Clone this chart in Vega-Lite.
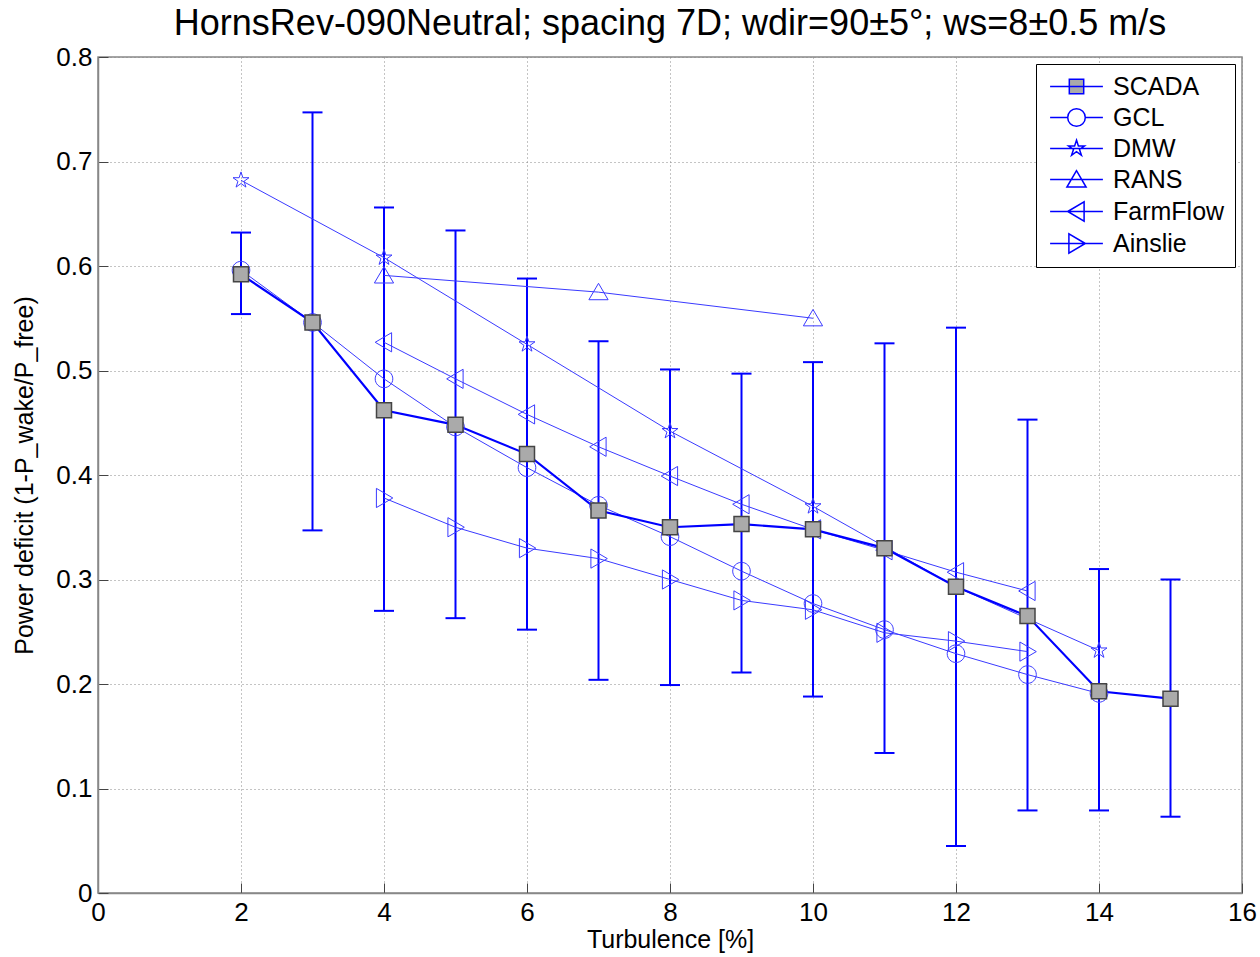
{
  "$schema": "https://vega.github.io/schema/vega-lite/v6.json",
  "width": 1144,
  "height": 836,
  "autosize": "none",
  "padding": {"left": 98, "top": 57, "right": 18, "bottom": 64},
  "background": "white",
  "config": {
    "font": "Liberation Sans",
    "view": {"stroke": "#888888", "strokeWidth": 1.5},
    "axis": {
      "labelFont": "Liberation Sans",
      "titleFont": "Liberation Sans",
      "labelFontSize": 26,
      "titleFontSize": 25,
      "labelColor": "black",
      "titleColor": "black",
      "titleFontWeight": "normal",
      "labelFlush": false,
      "domainColor": "#888888",
      "domainWidth": 1.5,
      "tickColor": "#444444",
      "tickSize": -10,
      "tickWidth": 1,
      "gridColor": "#888888",
      "gridDash": [1, 3],
      "gridWidth": 1
    }
  },
  "title": {
    "text": "HornsRev-090Neutral; spacing 7D; wdir=90±5°; ws=8±0.5 m/s",
    "font": "Liberation Sans",
    "fontSize": 36,
    "fontWeight": "normal",
    "color": "black",
    "anchor": "middle",
    "offset": 1
  },
  "data": {
    "values": [
      {"series": "SCADA", "x": 2, "y": 0.592, "lo": 0.554, "hi": 0.632},
      {"series": "SCADA", "x": 3, "y": 0.546, "lo": 0.347, "hi": 0.747},
      {"series": "SCADA", "x": 4, "y": 0.462, "lo": 0.270, "hi": 0.656},
      {"series": "SCADA", "x": 5, "y": 0.448, "lo": 0.263, "hi": 0.634},
      {"series": "SCADA", "x": 6, "y": 0.420, "lo": 0.252, "hi": 0.588},
      {"series": "SCADA", "x": 7, "y": 0.366, "lo": 0.204, "hi": 0.528},
      {"series": "SCADA", "x": 8, "y": 0.350, "lo": 0.199, "hi": 0.501},
      {"series": "SCADA", "x": 9, "y": 0.353, "lo": 0.211, "hi": 0.497},
      {"series": "SCADA", "x": 10, "y": 0.348, "lo": 0.188, "hi": 0.508},
      {"series": "SCADA", "x": 11, "y": 0.330, "lo": 0.134, "hi": 0.526},
      {"series": "SCADA", "x": 12, "y": 0.293, "lo": 0.045, "hi": 0.541},
      {"series": "SCADA", "x": 13, "y": 0.265, "lo": 0.079, "hi": 0.453},
      {"series": "SCADA", "x": 14, "y": 0.193, "lo": 0.079, "hi": 0.310},
      {"series": "SCADA", "x": 15, "y": 0.186, "lo": 0.073, "hi": 0.300},
      {"series": "GCL", "x": 2, "y": 0.596},
      {"series": "GCL", "x": 3, "y": 0.546},
      {"series": "GCL", "x": 4, "y": 0.492},
      {"series": "GCL", "x": 5, "y": 0.446},
      {"series": "GCL", "x": 6, "y": 0.407},
      {"series": "GCL", "x": 7, "y": 0.371},
      {"series": "GCL", "x": 8, "y": 0.341},
      {"series": "GCL", "x": 9, "y": 0.308},
      {"series": "GCL", "x": 10, "y": 0.277},
      {"series": "GCL", "x": 11, "y": 0.252},
      {"series": "GCL", "x": 12, "y": 0.229},
      {"series": "GCL", "x": 13, "y": 0.209},
      {"series": "GCL", "x": 14, "y": 0.191},
      {"series": "DMW", "x": 2, "y": 0.682},
      {"series": "DMW", "x": 4, "y": 0.608},
      {"series": "DMW", "x": 6, "y": 0.525},
      {"series": "DMW", "x": 8, "y": 0.442},
      {"series": "DMW", "x": 10, "y": 0.370},
      {"series": "DMW", "x": 12, "y": 0.293},
      {"series": "DMW", "x": 14, "y": 0.232},
      {"series": "RANS", "x": 4, "y": 0.591},
      {"series": "RANS", "x": 7, "y": 0.575},
      {"series": "RANS", "x": 10, "y": 0.550},
      {"series": "FarmFlow", "x": 4, "y": 0.527},
      {"series": "FarmFlow", "x": 5, "y": 0.492},
      {"series": "FarmFlow", "x": 6, "y": 0.458},
      {"series": "FarmFlow", "x": 7, "y": 0.427},
      {"series": "FarmFlow", "x": 8, "y": 0.399},
      {"series": "FarmFlow", "x": 9, "y": 0.372},
      {"series": "FarmFlow", "x": 10, "y": 0.348},
      {"series": "FarmFlow", "x": 11, "y": 0.328},
      {"series": "FarmFlow", "x": 12, "y": 0.307},
      {"series": "FarmFlow", "x": 13, "y": 0.289},
      {"series": "Ainslie", "x": 4, "y": 0.378},
      {"series": "Ainslie", "x": 5, "y": 0.350},
      {"series": "Ainslie", "x": 6, "y": 0.330},
      {"series": "Ainslie", "x": 7, "y": 0.320},
      {"series": "Ainslie", "x": 8, "y": 0.300},
      {"series": "Ainslie", "x": 9, "y": 0.280},
      {"series": "Ainslie", "x": 10, "y": 0.271},
      {"series": "Ainslie", "x": 11, "y": 0.249},
      {"series": "Ainslie", "x": 12, "y": 0.241},
      {"series": "Ainslie", "x": 13, "y": 0.231}
    ]
  },
  "encoding": {
    "x": {
      "field": "x", "type": "quantitative",
      "scale": {"domain": [0, 16], "nice": false, "zero": false},
      "axis": {"title": "Turbulence [%]", "values": [0, 2, 4, 6, 8, 10, 12, 14, 16], "labelPadding": 16, "titlePadding": 2}
    },
    "y": {
      "field": "y", "type": "quantitative",
      "scale": {"domain": [0, 0.8], "nice": false},
      "axis": {"title": "Power deficit (1-P_wake/P_free)", "values": [0, 0.1, 0.2, 0.3, 0.4, 0.5, 0.6, 0.7, 0.8], "format": ".1~f", "labelPadding": 16, "titlePadding": 18}
    }
  },
  "layer": [
    {
      "transform": [{"filter": "datum.series === 'SCADA'"}],
      "mark": {"type": "rule", "color": "#0000ff", "strokeWidth": 2},
      "encoding": {"y": {"field": "lo", "type": "quantitative"}, "y2": {"field": "hi"}}
    },
    {
      "transform": [{"filter": "datum.series === 'SCADA'"}],
      "mark": {"type": "tick", "orient": "horizontal", "color": "#0000ff", "size": 20, "thickness": 2, "opacity": 1},
      "encoding": {"y": {"field": "lo", "type": "quantitative"}}
    },
    {
      "transform": [{"filter": "datum.series === 'SCADA'"}],
      "mark": {"type": "tick", "orient": "horizontal", "color": "#0000ff", "size": 20, "thickness": 2, "opacity": 1},
      "encoding": {"y": {"field": "hi", "type": "quantitative"}}
    },
    {
      "transform": [{"filter": "datum.series !== 'SCADA'"}],
      "mark": {"type": "line", "color": "#3a3aff", "strokeWidth": 1},
      "encoding": {"detail": {"field": "series", "type": "nominal"}}
    },
    {
      "transform": [{"filter": "datum.series === 'SCADA'"}],
      "mark": {"type": "line", "color": "#0000ff", "strokeWidth": 2.2},
      "encoding": {}
    },
    {
      "transform": [{"filter": "datum.series !== 'SCADA'"}],
      "mark": {"type": "point", "filled": false, "stroke": "#3a3aff", "strokeWidth": 1, "size": 256, "opacity": 1},
      "encoding": {
        "shape": {
          "field": "series", "type": "nominal", "legend": null,
          "scale": {
            "domain": ["GCL", "DMW", "RANS", "FarmFlow", "Ainslie"],
            "range": [
              "M-1.1,0A1.1,1.1 0 1,0 1.1,0A1.1,1.1 0 1,0 -1.1,0Z",
              "M0,-1.05L0.234,-0.322L0.999,-0.324L0.379,0.123L0.617,0.849L0,0.399L-0.617,0.849L-0.379,0.123L-0.999,-0.324L-0.234,-0.322Z",
              "M0,-1.1L-1.2,0.95L1.2,0.95Z",
              "M-1.1,0L0.95,-1.2L0.95,1.2Z",
              "M1.1,0L-0.95,-1.2L-0.95,1.2Z"
            ]
          }
        }
      }
    },
    {
      "transform": [{"filter": "datum.series === 'SCADA'"}],
      "mark": {"type": "point", "shape": "square", "filled": true, "fill": "#aaaaaa", "stroke": "#444444", "strokeWidth": 1.5, "size": 225, "opacity": 1},
      "encoding": {}
    },
    {
      "transform": [{"filter": "datum.x > 100"}],
      "mark": {"type": "point", "filled": true, "stroke": "#0000ff", "strokeWidth": 1, "size": 256, "opacity": 1},
      "encoding": {
        "fill": {
          "field": "series", "type": "nominal",
          "scale": {
            "domain": ["SCADA", "GCL", "DMW", "RANS", "FarmFlow", "Ainslie"],
            "range": ["#aaaaaa", "#ffffff", "#ffffff", "#ffffff", "#ffffff", "#ffffff"]
          }
        },
        "shape": {
          "field": "series", "type": "nominal",
          "scale": {
            "domain": ["SCADA", "GCL", "DMW", "RANS", "FarmFlow", "Ainslie"],
            "range": [
              "M-3.3,0H3.3M-0.9,-0.9H0.9V0.9H-0.9Z",
              "M-3.3,0H-1.1M1.1,0H3.3M-1.1,0A1.1,1.1 0 1,0 1.1,0A1.1,1.1 0 1,0 -1.1,0Z",
              "M-3.3,0H3.3M0,-1.05L0.234,-0.322L0.999,-0.324L0.379,0.123L0.617,0.849L0,0.399L-0.617,0.849L-0.379,0.123L-0.999,-0.324L-0.234,-0.322Z",
              "M-3.3,0H3.3M0,-1.1L-1.2,0.95L1.2,0.95Z",
              "M-3.3,0H3.3M-1.1,0L0.95,-1.2L0.95,1.2Z",
              "M-3.3,0H3.3M1.1,0L-0.95,-1.2L-0.95,1.2Z"
            ]
          },
          "legend": {
            "title": null,
            "orient": "top-right",
            "offset": 7,
            "padding": 10,
            "strokeColor": "black",
            "fillColor": "white",
            "labelFont": "Liberation Sans",
            "labelFontSize": 25,
            "labelColor": "black",
            "rowPadding": 5,
            "symbolSize": 256,
            "symbolOffset": 18,
            "labelOffset": 24,
            "encode": {
              "symbols": {
                "update": {
                  "stroke": {"value": "#0000ff"},
                  "strokeWidth": {"value": 1},
                  "fill": {"signal": "datum.value === 'SCADA' ? '#aaaaaa' : 'transparent'"},
                  "opacity": {"value": 1}
                }
              }
            }
          }
        }
      }
    }
  ],
  "resolve": {"scale": {"shape": "independent", "fill": "independent"}}
}
